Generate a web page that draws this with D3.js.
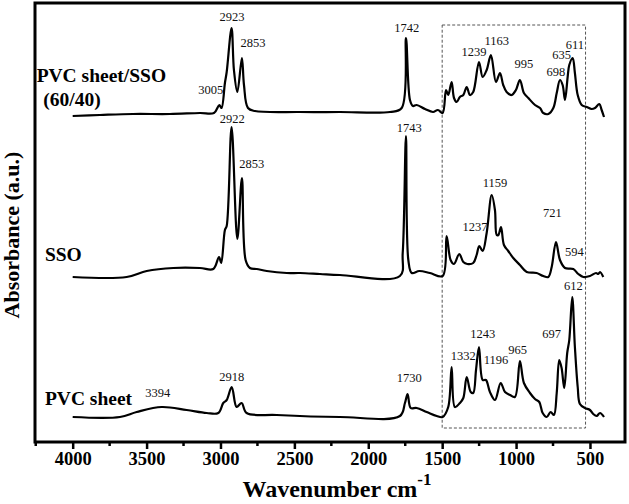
<!DOCTYPE html>
<html>
<head>
<meta charset="utf-8">
<script src="https://cdn.jsdelivr.net/npm/d3@7"></script>
<style>
  body { margin: 0; background: #fff; }
  svg { display: block; font-family: "Liberation Serif", "Times New Roman", serif; }
</style>
</head>
<body>
<svg id="chart" width="629" height="504"></svg>
<script>
// ---- spectra (wavenumber cm-1 / absorbance a.u., traces stacked) ----
const wnBlend  = [4000,3815,3592,3342,3139,3044,3008,2993,2970,2958,2925,2909,2886,2855,2841,2814,2767,2462,2192,1853,1774,1745,1718,1698,1673,1616,1562,1529,1497,1474,1459,1436,1420,1402,1380,1357,1334,1312,1290,1251,1226,1199,1170,1136,1109,1087,1064,1030,1001,974,947,917,872,838,816,782,748,725,703,685,669,651,640,617,602,583,556,522,489,466,437,421,405];
const absBlend = [3.26,3.27,3.28,3.28,3.29,3.29,3.37,3.34,3.59,3.70,4.14,3.72,3.50,3.84,3.57,3.34,3.31,3.30,3.30,3.30,3.34,4.04,3.42,3.36,3.37,3.33,3.30,3.32,3.29,3.52,3.47,3.60,3.44,3.40,3.45,3.47,3.55,3.47,3.50,3.80,3.65,3.72,3.87,3.60,3.69,3.57,3.50,3.47,3.52,3.62,3.49,3.44,3.37,3.34,3.29,3.28,3.34,3.49,3.62,3.57,3.42,3.65,3.77,3.84,3.69,3.47,3.37,3.35,3.33,3.34,3.38,3.32,3.25];

const wnSSO  = [4000,3635,3499,3319,3139,3049,3010,2995,2970,2958,2925,2886,2855,2830,2801,2755,2687,2552,2462,2327,2192,1786,1767,1745,1729,1706,1655,1583,1497,1470,1443,1420,1384,1357,1330,1290,1267,1249,1226,1199,1165,1143,1131,1120,1102,1082,1053,1019,974,928,861,816,782,759,730,703,669,613,579,545,500,459,444,432,410];
const absSSO = [1.65,1.65,1.71,1.74,1.74,1.73,1.85,1.79,2.12,2.16,3.15,2.03,2.64,1.82,1.74,1.73,1.71,1.69,1.69,1.68,1.67,1.66,1.89,3.06,1.82,1.69,1.71,1.69,1.66,2.06,1.82,1.78,1.88,1.80,1.78,1.79,1.87,1.96,1.91,2.09,2.47,2.32,2.07,2.07,2.15,1.97,1.91,1.84,1.77,1.70,1.69,1.66,1.65,1.75,2.00,1.82,1.74,1.73,1.68,1.65,1.66,1.69,1.68,1.70,1.65];

const wnPVC  = [4000,3680,3567,3398,3229,3093,3015,2981,2958,2924,2891,2857,2823,2620,2192,1786,1752,1734,1713,1673,1605,1537,1497,1459,1436,1414,1380,1357,1334,1307,1290,1271,1251,1226,1204,1177,1143,1104,1075,1041,1008,974,947,906,872,843,820,793,766,744,725,708,692,674,654,640,620,602,583,568,534,500,478,455,432,405];
const absPVC = [0.25,0.25,0.30,0.35,0.32,0.29,0.29,0.39,0.42,0.55,0.35,0.39,0.29,0.27,0.25,0.26,0.39,0.48,0.34,0.34,0.30,0.26,0.25,0.35,0.75,0.35,0.39,0.44,0.65,0.50,0.49,0.72,0.95,0.62,0.62,0.50,0.42,0.59,0.50,0.47,0.45,0.81,0.59,0.49,0.43,0.40,0.29,0.25,0.30,0.27,0.49,0.82,0.74,0.54,0.89,1.02,1.45,0.95,0.55,0.38,0.34,0.32,0.28,0.26,0.29,0.25];

// ---- peak labels (text, wavenumber, absorbance at label baseline) ----
const peakText = ["2923","2853","3005","1742","1239","1163","995","698","635","611",
                  "2922","2853","1743","1159","1237","721","594",
                  "3394","2918","1730","1332","1243","1196","965","697","612"];
const peakWn   = [2922,2780,3066,1740,1285,1131,947,730,692,602,
                  2920,2789,1723,1143,1278,755,606,
                  3425,2924,1723,1357,1226,1136,989,759,613];
const peakAbs  = [4.21,3.95,3.48,4.10,3.865,3.97,3.74,3.66,3.83,3.93,
                  3.19,2.74,3.10,2.555,2.11,2.255,1.86,
                  0.45,0.61,0.605,0.82,1.04,0.78,0.88,1.045,1.52];

// ---- sample names ----
const nameText = ["PVC sheet/SSO", "(60/40)", "SSO", "PVC sheet"];
const nameWn   = [4244, 4199, 4188, 4188];
const nameAbs  = [3.60, 3.36, 1.81, 0.37];

// ---- axis ----
const xTicks = [4000, 3500, 3000, 2500, 2000, 1500, 1000, 500];
const xMinor = [4250, 3750, 3250, 2750, 2250, 1750, 1250, 750];
const boxWn  = [1500, 530];   // dashed region
const boxAbs = [0.14, 4.17];

const svg = d3.select("#chart");
const m = { top: 3, right: 4, bottom: 62, left: 35 };
const W = 629, H = 504;
const w = W - m.left - m.right, h = H - m.top - m.bottom;

const x = d3.scaleLinear().domain([4255, 263]).range([0, w]);
const y = d3.scaleLinear().domain([0, 4.39]).range([h, 0]);

const g = svg.append("g").attr("transform", `translate(${m.left},${m.top})`);

// dashed box
g.append("rect")
  .attr("x", x(boxWn[0])).attr("y", y(boxAbs[1]))
  .attr("width", x(boxWn[1]) - x(boxWn[0])).attr("height", y(boxAbs[0]) - y(boxAbs[1]))
  .attr("fill", "none").attr("stroke", "#555").attr("stroke-width", 1)
  .attr("stroke-dasharray", "3,2");

// spectra
const mk = d3.line().x(d => x(d[0])).y(d => y(d[1])).curve(d3.curveCatmullRom.alpha(0.5));
[[wnBlend, absBlend], [wnSSO, absSSO], [wnPVC, absPVC]].forEach(([wn, ab]) => {
  g.append("path").datum(d3.zip(wn, ab))
    .attr("fill", "none").attr("stroke", "#000").attr("stroke-width", 2.2)
    .attr("stroke-linejoin", "round")
    .attr("d", mk);
});

// peak labels
g.selectAll("text.peak").data(d3.range(peakText.length)).enter().append("text")
  .attr("class", "peak")
  .attr("x", i => x(peakWn[i])).attr("y", i => y(peakAbs[i]))
  .attr("text-anchor", "middle").attr("font-size", 12.5).attr("fill", "#111")
  .text(i => peakText[i]);

// sample names
g.selectAll("text.name").data(d3.range(nameText.length)).enter().append("text")
  .attr("class", "name")
  .attr("x", i => x(nameWn[i])).attr("y", i => y(nameAbs[i]))
  .attr("font-size", 19.5).attr("font-weight", "bold")
  .text(i => nameText[i]);

// x axis: major + minor ticks
const ax = g.append("g").attr("transform", `translate(0,${h})`)
  .call(d3.axisBottom(x).tickValues(xTicks).tickFormat(d3.format("d"))
    .tickSize(7).tickSizeOuter(0).tickPadding(3));
ax.attr("font-family", null).attr("font-size", null);
ax.select(".domain").remove();
ax.selectAll("line").attr("stroke-width", 2.5);
ax.selectAll("text").style("font-size", "18.5px").style("font-weight", "bold")
  .attr("fill", "#000");
g.append("g").attr("transform", `translate(0,${h})`)
  .selectAll("line").data(xMinor).enter().append("line")
  .attr("x1", d => x(d)).attr("x2", d => x(d)).attr("y1", 0).attr("y2", 4)
  .attr("stroke", "#000").attr("stroke-width", 2.5);

// frame
g.append("rect").attr("x", 0).attr("y", 0).attr("width", w).attr("height", h)
  .attr("fill", "none").attr("stroke", "#000").attr("stroke-width", 3);

// axis titles
const xt = svg.append("text")
  .attr("x", 337).attr("y", 497)
  .attr("text-anchor", "middle").attr("font-size", 24).attr("font-weight", "bold");
xt.append("tspan").text("Wavenumber cm");
xt.append("tspan").attr("font-size", 17).attr("dy", -12).text("-1");

svg.append("text")
  .attr("transform", `translate(19,235) rotate(-90)`)
  .attr("text-anchor", "middle").attr("font-size", 22).attr("font-weight", "bold")
  .text("Absorbance (a.u.)");
</script>
</body>
</html>
